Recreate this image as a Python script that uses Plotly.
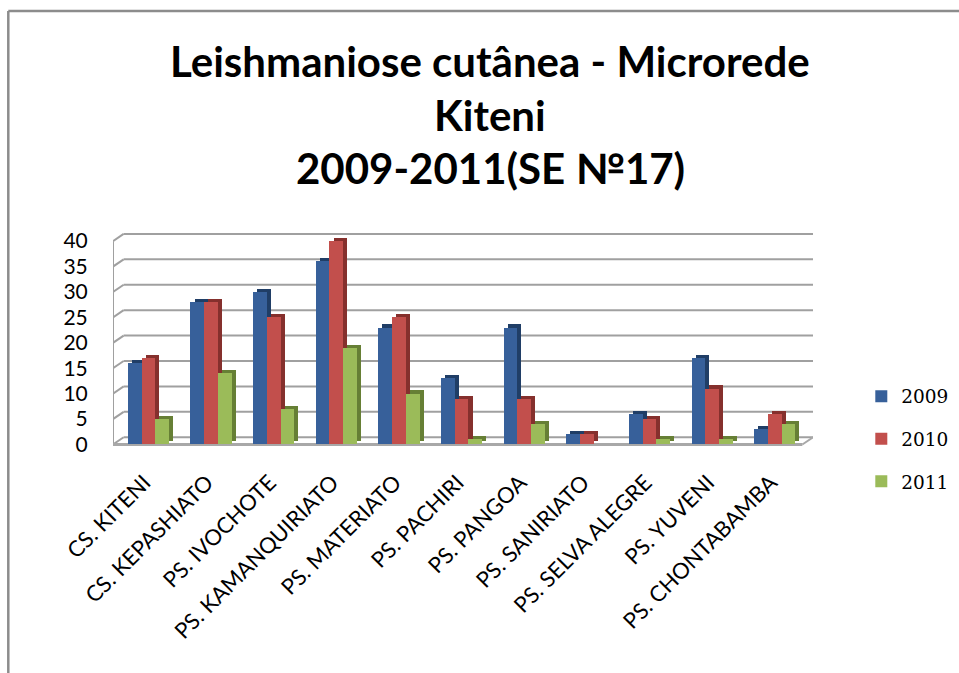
import plotly.graph_objects as go

# ---------------- data ----------------
categories = ["CS. KITENI", "CS. KEPASHIATO", "PS. IVOCHOTE", "PS. KAMANQUIRIATO",
              "PS. MATERIATO", "PS. PACHIRI", "PS. PANGOA", "PS. SANIRIATO",
              "PS. SELVA ALEGRE", "PS. YUVENI", "PS. CHONTABAMBA"]
cases_2009 = [16, 28, 30, 36, 23, 13, 23, 2, 6, 17, 3]
cases_2010 = [17, 28, 25, 40, 25, 9, 9, 2, 5, 11, 6]
cases_2011 = [5, 14, 7, 19, 10, 1, 4, 0, 1, 1, 4]
series_names = ["2009", "2010", "2011"]
y_ticks = [0, 5, 10, 15, 20, 25, 30, 35, 40]
title_lines = ["Leishmaniose cutânea - Microrede", "Kiteni", "2009-2011(SE №17)"]

# ---------------- style / geometry ----------------
W, H = 959, 673
front_colors = ["#37609A", "#C24F4C", "#9BBB59"]
side_colors = ["#203E66", "#85302D", "#667F35"]

XL, XR = -0.565, 10.61          # x range (front-left edge, back-right edge)
YMIN, YMAX = -0.3, 41.6
DXW, DYW = 0.17, 1.42           # wall depth offset (data units)
BW = 0.219                       # bar front width
DXB, DYB = 0.065, 0.62           # bar depth offset

ML, MR = 112.7, W - 812.7
MT, MB = 232.9, H - 445.8
PW, PH = W - ML - MR, H - MT - MB

def px_x(px):
    return (px - ML) / PW

def px_y(py):
    return (H - MB - py) / PH

idx = list(range(len(categories)))
fig = go.Figure()

all_series = [cases_2009, cases_2010, cases_2011]
for k, (name, vals) in enumerate(zip(series_names, all_series)):
    off = -1.5 * BW + k * BW
    # side / top faces (depth) of the 3D bar
    fig.add_trace(go.Bar(
        x=idx, y=vals, base=[DYB] * len(vals), offset=off + DXB, width=BW,
        marker=dict(color=side_colors[k], line=dict(width=0)),
        showlegend=False, hoverinfo="skip", legendgroup=name))
    # front face
    fig.add_trace(go.Bar(
        x=idx, y=vals, base=[0] * len(vals), offset=off, width=BW, name=name,
        marker=dict(color=front_colors[k], line=dict(width=0)),
        legendgroup=name))

# ---------------- 3D walls / gridlines ----------------
grid_col = "#A0A0A0"
shapes = []
for v in y_ticks:
    shapes.append(dict(type="line", xref="x", yref="y", layer="below",
                       x0=XL, y0=v, x1=XL + DXW, y1=v + DYW,
                       line=dict(color=grid_col, width=2)))
    shapes.append(dict(type="line", xref="x", yref="y", layer="below",
                       x0=XL + DXW, y0=v + DYW, x1=XR, y1=v + DYW,
                       line=dict(color=grid_col, width=2)))
shapes.append(dict(type="line", xref="x", yref="y", layer="below",
                   x0=XL, y0=0, x1=XL, y1=y_ticks[-1],
                   line=dict(color=grid_col, width=2)))
shapes.append(dict(type="line", xref="x", yref="y", layer="below",
                   x0=XL, y0=0, x1=XR - DXW, y1=0,
                   line=dict(color="#A8A8A8", width=3)))
shapes.append(dict(type="line", xref="x", yref="y", layer="below",
                   x0=XR - DXW, y0=0, x1=XR, y1=DYW,
                   line=dict(color="#A8A8A8", width=2)))
# outer frame (left and top edges of the chart area)
shapes.append(dict(type="line", xref="paper", yref="paper",
                   x0=px_x(8), y0=px_y(11), x1=px_x(W + 5), y1=px_y(11),
                   line=dict(color="#8C8C8C", width=2.5)))
shapes.append(dict(type="line", xref="paper", yref="paper",
                   x0=px_x(8), y0=px_y(11), x1=px_x(8), y1=px_y(H + 5),
                   line=dict(color="#8C8C8C", width=2.5)))

# ---------------- title ----------------
annotations = []
for line, py in zip(title_lines, [61, 115, 168]):
    annotations.append(dict(text="<b>" + line + "</b>", xref="paper", yref="paper",
                            x=px_x(490), y=px_y(py), xanchor="center", yanchor="middle",
                            showarrow=False,
                            font=dict(family="Lato", size=42, color="#000000")))

fig.update_layout(
    width=W, height=H,
    margin=dict(l=ML, r=MR, t=MT, b=MB, autoexpand=False),
    paper_bgcolor="white", plot_bgcolor="rgba(0,0,0,0)",
    barmode="overlay", bargap=0,
    showlegend=True,
    legend=dict(x=px_x(861), y=px_y(439), xanchor="left", yanchor="middle",
                font=dict(family="DejaVu Serif", size=18.5, color="#000000"),
                tracegroupgap=15.5, bgcolor="rgba(0,0,0,0)"),
    shapes=shapes, annotations=annotations,
    xaxis=dict(range=[XL, XR], tickmode="array", tickvals=idx, ticktext=categories,
               tickangle=-45, showgrid=False, zeroline=False, showline=False,
               ticks="outside", ticklen=14, tickcolor="rgba(0,0,0,0)",
               ticklabelshift=-4,
               tickfont=dict(family="Lato", size=22, color="#000000")),
    yaxis=dict(range=[YMIN, YMAX], tickmode="array", tickvals=y_ticks,
               showgrid=False, zeroline=False, showline=False,
               ticks="outside", ticklen=20, tickcolor="rgba(0,0,0,0)",
               tickfont=dict(family="Lato", size=21, color="#000000")),
    font=dict(family="Lato"),
)

fig.write_html("out.html", config={"displayModeBar": False},
               post_script="document.body.style.margin='0px';document.body.style.overflow='hidden';")
